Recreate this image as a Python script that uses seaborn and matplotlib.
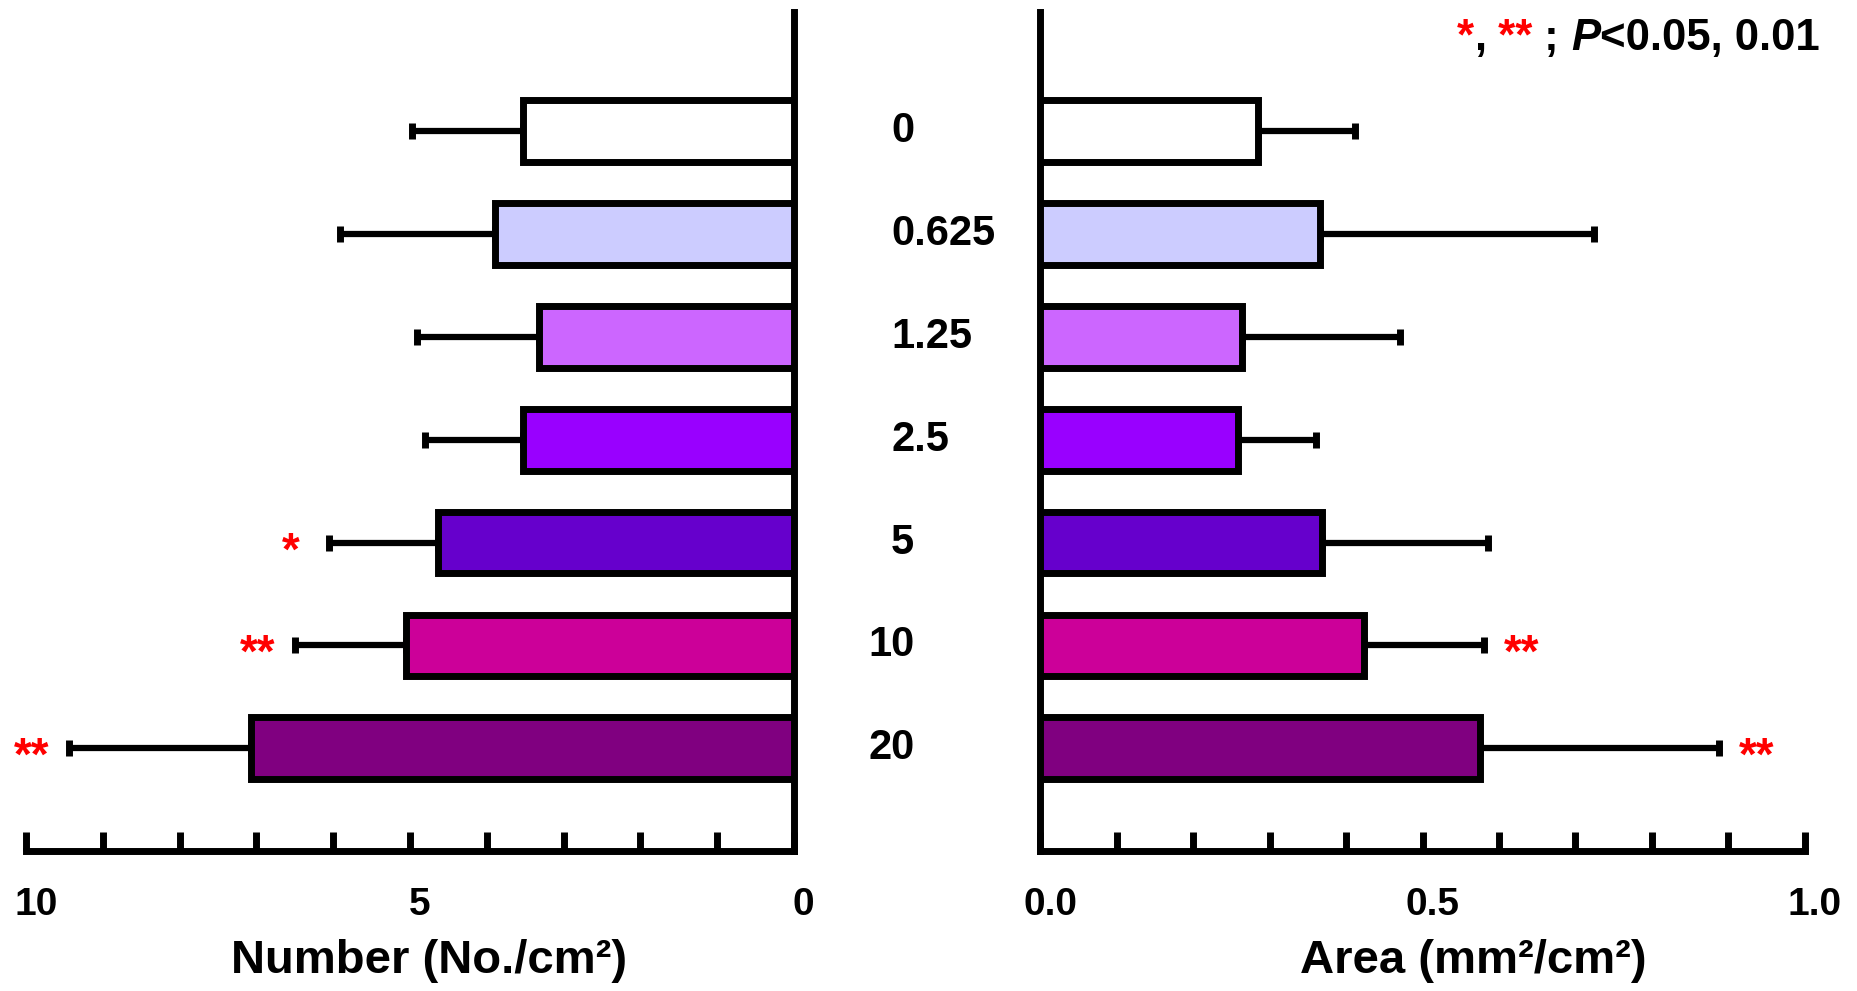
import matplotlib
matplotlib.use("Agg")
import matplotlib.pyplot as plt
import matplotlib.transforms as mtransforms
import seaborn as sns
import pandas as pd
import numpy as np

# Data
conc = ["0", "0.625", "1.25", "2.5", "5", "10", "20"]
number_mean = [3.53, 3.89, 3.32, 3.53, 4.63, 5.05, 7.07]
number_sd = [1.44, 2.02, 1.59, 1.28, 1.43, 1.45, 2.37]
area_mean = [0.285, 0.366, 0.264, 0.259, 0.369, 0.423, 0.575]
area_sd = [0.126, 0.358, 0.207, 0.101, 0.217, 0.158, 0.313]
number_stars = ["", "", "", "", "*", "**", "**"]
area_stars = ["", "", "", "", "", "**", "**"]
colors = ["#FFFFFF", "#CCCCFF", "#CC66FF", "#9900FF", "#6600CC", "#CC0099", "#800080"]

df = pd.DataFrame({"conc": conc, "number": number_mean, "area": area_mean})

sns.set_style("white")
plt.rcParams["font.family"] = ["Liberation Sans", "DejaVu Sans"]
plt.rcParams["text.color"] = "black"
plt.rcParams["axes.labelcolor"] = "black"
plt.rcParams["xtick.color"] = "black"

fig = plt.figure(figsize=(18.58, 9.91), dpi=100)
ax1 = fig.add_axes([0.01403, 0.1411, 0.4133, 0.8469])
ax2 = fig.add_axes([0.5600, 0.1411, 0.4113, 0.8469])

lw = 5
palette = dict(zip(conc, colors))

for ax, col, sd, stars, xlim, step in [
    (ax1, "number", number_sd, number_stars, (10, 0), 1),
    (ax2, "area", area_sd, area_stars, (0, 1.0), 0.1),
]:
    sns.barplot(data=df, x=col, y="conc", hue="conc", order=conc, palette=palette,
                orient="h", width=0.6, edgecolor="black", linewidth=lw,
                saturation=1, legend=False, ax=ax, zorder=3)
    ypos = np.arange(len(conc))
    vals = df[col].values
    ax.errorbar(vals, ypos, xerr=[np.zeros(len(sd)), sd], fmt="none",
                ecolor="black", elinewidth=4.5, capsize=6, capthick=5, zorder=2)
    sign = -1 if ax is ax1 else 1
    for y, v, s, st in zip(ypos, vals, sd, stars):
        if st:
            ax.annotate(st, xy=(v + s, y), xytext=(sign * 27, -7),
                        textcoords="offset points", ha="center", va="center",
                        color="red", fontsize=33, fontweight="bold")
    ax.set_xlim(*xlim)
    ax.set_ylim(7.0, -1.16)
    ax.set_ylabel("")
    ax.set_yticks([])
    n = int(round(abs(xlim[1] - xlim[0]) / step))
    ticks = [i * step for i in range(n + 1)]
    ax.set_xticks(ticks)
    labels = []
    for i, t in enumerate(ticks):
        if i % 5 == 0:
            labels.append(f"{t:.0f}" if ax is ax1 else f"{t:.1f}")
        else:
            labels.append("")
    ax.set_xticklabels(labels, fontsize=28, fontweight="bold")
    ax.tick_params(axis="x", bottom=True, direction="in", length=14, width=lw,
                   pad=26, colors="black")
    shift = mtransforms.ScaledTranslation(7 / 72, 0, fig.dpi_scale_trans)
    for lab in ax.get_xticklabels():
        lab.set_transform(lab.get_transform() + shift)
    for sp in ax.spines.values():
        sp.set_linewidth(lw)
        sp.set_color("black")
    ax.spines["top"].set_visible(False)

ax1.spines["left"].set_visible(False)
ax2.spines["right"].set_visible(False)

ax1.set_xlabel("Number (No./cm²)", fontsize=34, fontweight="bold")
ax2.set_xlabel("Area (mm²/cm²)", fontsize=34, fontweight="bold")
ax1.xaxis.set_label_coords(0.525, -0.105)
ax2.xaxis.set_label_coords(0.566, -0.105)

# concentration labels between panels
trans = mtransforms.blended_transform_factory(fig.transFigure, ax2.transData)
for i, c in enumerate(conc):
    x = 0.4675 if len(c) == 2 else 0.4796
    fig.text(x, i, c, transform=trans, ha="left", va="center",
             fontsize=30, fontweight="bold")

# significance note, built piece by piece
prev = fig.text(0.784, 0.95, "*", color="red", fontsize=31.5, fontweight="bold")
pieces = [(",", "black", "normal"), (" **", "red", "normal"), (" ; ", "black", "normal"),
          ("P", "black", "italic"), ("<0.05, 0.01", "black", "normal")]
for s, c, st in pieces:
    prev = ax2.annotate(s, xy=(1, 0), xycoords=prev, va="bottom", ha="left",
                        color=c, fontsize=31.5, fontweight="bold", fontstyle=st,
                        annotation_clip=False)

fig.savefig("out.png", dpi=100)
